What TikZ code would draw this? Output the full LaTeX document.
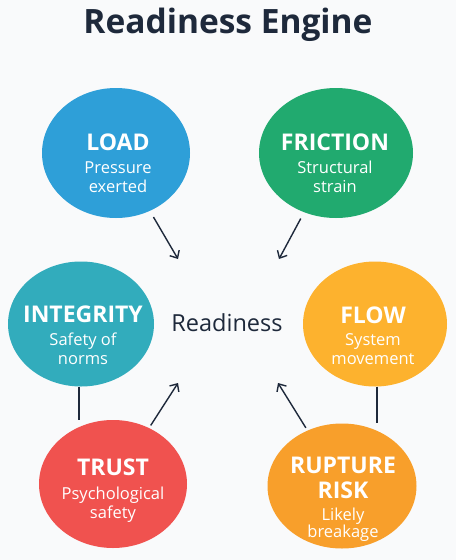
\documentclass[tikz,border=0pt]{standalone}
\usepackage{fontspec}
\setmainfont{Open Sans}
\usetikzlibrary{arrows.meta,shapes.geometric}
\definecolor{bgc}{HTML}{F9FAFB}
\definecolor{ink}{HTML}{1E293B}
\definecolor{cload}{HTML}{2E9FD8}
\definecolor{cfric}{HTML}{21AA6F}
\definecolor{cinteg}{HTML}{32ACBC}
\definecolor{cflow}{HTML}{FDB22E}
\definecolor{ctrust}{HTML}{F0524F}
\definecolor{crupt}{HTML}{F89F2B}
\begin{document}
\begin{tikzpicture}[x=1pt,y=-1pt,
  blob/.style={ellipse, draw=none, inner sep=0pt},
  ttl/.style={anchor=base, text=white, font=\fontsize{23}{23}\selectfont\bfseries, inner sep=0pt},
  sub/.style={anchor=base, text=white, font=\fontsize{16.5}{19}\selectfont, inner sep=0pt, align=center},
  arr/.style={draw=ink, line width=1.4pt, -{Straight Barb[length=6pt,width=11pt]}},
  link/.style={draw=ink, line width=1.4pt}]
\fill[bgc] (0,0) rectangle (456,560);
\node[anchor=base, text=ink, font=\fontsize{33.5}{33.5}\selectfont\bfseries, inner sep=0pt] (title) at (228,33) {Readiness Engine};
\node[anchor=base, text=ink, font=\fontsize{23.5}{23.5}\selectfont, inner sep=0pt] (ready) at (227,331) {Readiness};

\node[blob, fill=cload, minimum width=148pt, minimum height=130pt] (load) at (116,153) {};
\node[blob, fill=cfric, minimum width=154pt, minimum height=130pt] (fric) at (336,153) {};
\node[blob, fill=cinteg, minimum width=146pt, minimum height=125pt] (integ) at (81,324) {};
\node[blob, fill=cflow, minimum width=144pt, minimum height=125pt] (flow) at (375,324) {};
\node[blob, fill=ctrust, minimum width=148pt, minimum height=128pt] (trust) at (113,484) {};
\node[blob, fill=crupt, minimum width=149pt, minimum height=125pt] (rupt) at (342,486) {};

\node[ttl] (loadT) at (118,150) {LOAD};
\node[sub] (loadS) at (118,192) {Pressure\\exerted};
\node[ttl] (fricT) at (335,150) {FRICTION};
\node[sub] (fricS) at (335,192) {Structural\\strain};
\node[ttl] (integT) at (83,322) {INTEGRITY};
\node[sub] (integS) at (83,364) {Safety of\\norms};
\node[ttl] (flowT) at (373,323) {FLOW};
\node[sub] (flowS) at (373,364) {System\\movement};
\node[ttl] (trustT) at (113,475) {TRUST};
\node[sub] (trustS) at (113,518) {Psychological\\safety};
\node[ttl, align=center, font=\fontsize{23}{25}\selectfont\bfseries] (ruptT) at (343,498) {RUPTURE\\RISK};
\node[sub, font=\fontsize{16.5}{17}\selectfont] (ruptS) at (343,537) {Likely\\breakage};

\coordinate (a1) at (178,259);
\coordinate (a2) at (279,259);
\coordinate (a3) at (178,383);
\coordinate (a4) at (278,383);
\draw[arr, shorten <=7pt] (load) -- (a1);
\draw[arr, shorten <=7pt] (fric) -- (a2);
\draw[arr, shorten <=3pt] (trust) -- (a3);
\draw[arr, shorten <=3pt] (rupt) -- (a4);
\draw[link] ([xshift=-2pt]integ.south) -- ([xshift=-2pt]integ.south |- trust.north);
\draw[link] ([xshift=2pt]flow.south) -- ([xshift=2pt]flow.south |- rupt.north);
\end{tikzpicture}
\end{document}
